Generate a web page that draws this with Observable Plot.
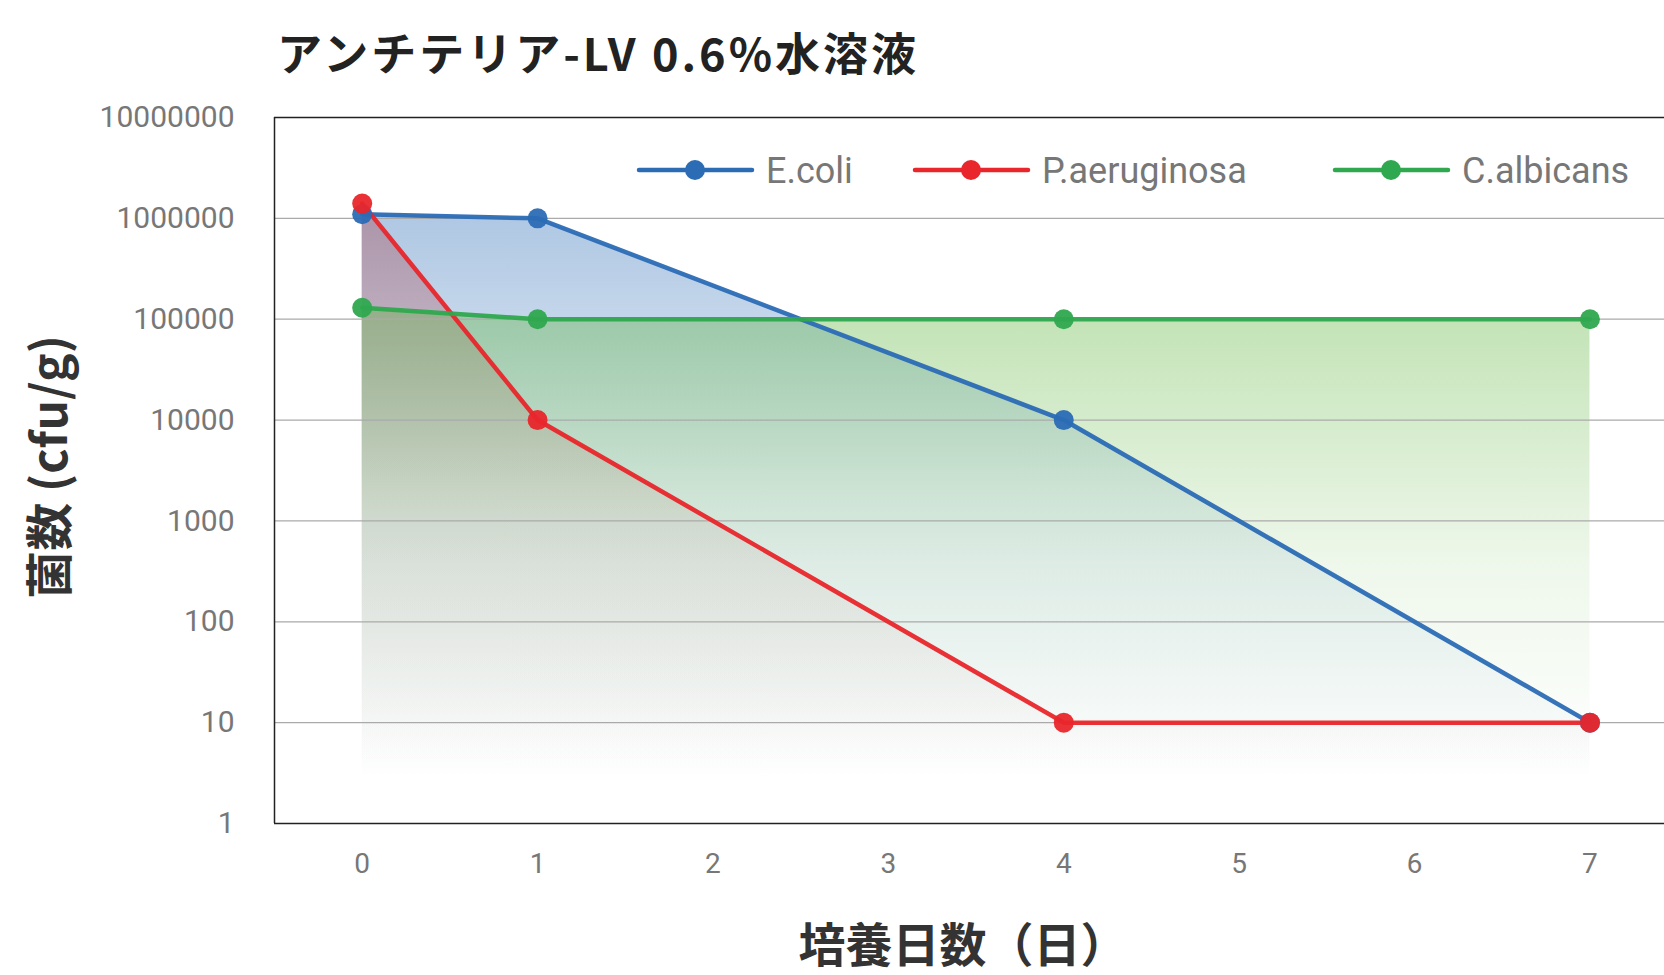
<!DOCTYPE html>
<html><head><meta charset="utf-8">
<script src="https://cdn.jsdelivr.net/npm/d3@7"></script>
<script src="https://cdn.jsdelivr.net/npm/@observablehq/plot@0.6"></script>
<style>
body{margin:0;background:#fff;width:1664px;height:975px;overflow:hidden;position:relative;font-family:Roboto,"Noto Sans CJK JP",sans-serif;}
#title{position:absolute;left:277px;top:22px;font-family:"Noto Sans CJK JP",sans-serif;font-weight:700;font-size:45px;letter-spacing:3px;line-height:60px;color:#222;white-space:nowrap;}
#chart{position:absolute;left:0;top:90px;}
</style></head>
<body>
<div id="title">アンチテリア-LV 0.6%水溶液</div>
<div id="chart"></div>
<script>
const days = [0, 1, 4, 7];
const ecoli = [1.1e6, 1e6, 1e4, 10];
const paeru = [1.4e6, 1e4, 10, 10];
const calb = [1.3e5, 1e5, 1e5, 1e5];
const seriesNames = ["E.coli", "P.aeruginosa", "C.albicans"];
const seriesColors = ["#2b6cb5", "#e8262b", "#2fa84f"];
const yTicks = [1, 10, 100, 1000, 10000, 100000, 1000000, 10000000];
const xTicks = [0, 1, 2, 3, 4, 5, 6, 7];
const xTitle = "培養日数（日）";
const yTitle = "菌数 (cfu/g)";

const allSeries = [ecoli, paeru, calb];
const rows = [];
allSeries.forEach((vals, si) => days.forEach((d, i) => rows.push({series: seriesNames[si], day: d, v: vals[i]})));
const bySeries = name => rows.filter(r => r.series === name);
const gradIds = ["gBlue", "gRed", "gGreen"];

const marks = [];
seriesNames.forEach((n, i) => marks.push(Plot.areaY(bySeries(n), {x: "day", y1: () => 1, y2: "v", fill: `url(#${gradIds[i]})`})));
marks.push(Plot.ruleY(yTicks.slice(1, -1), {stroke: "#aaa", strokeWidth: 1.2}));
marks.push(Plot.ruleY([1, 10000000], {stroke: "#222", strokeWidth: 1.5}));
marks.push(Plot.ruleX([-0.5], {stroke: "#222", strokeWidth: 1.5}));
seriesNames.forEach((n, i) => {
  marks.push(Plot.line(bySeries(n), {x: "day", y: "v", stroke: seriesColors[i], strokeWidth: 4.5, strokeOpacity: 0.95}));
});
seriesNames.forEach((n, i) => {
  marks.push(Plot.dot(bySeries(n), {x: "day", y: "v", r: 10, fill: seriesColors[i], fillOpacity: 0.95}));
});
marks.push(Plot.axisY({ticks: yTicks, tickFormat: d => String(d), tickSize: 0, tickPadding: 40, label: null, fontSize: 30, color: "#777"}));
marks.push(Plot.axisX({ticks: xTicks, tickFormat: d => String(d), tickSize: 0, tickPadding: 30, label: null, fontSize: 28, color: "#777"}));

const svg = Plot.plot({
  width: 1664, height: 885,
  marginLeft: 274, marginRight: 0, marginTop: 27, marginBottom: 152,
  x: {domain: [-0.5, 7.425]},
  y: {type: "log", domain: [1, 10000000]},
  style: {fontFamily: "Roboto, sans-serif", background: "#fff"},
  marks
});

const s = d3.select(svg);
const defs = s.insert("defs", ":first-child");
const gradDefs = [
  {id: "gBlue", color: "#2b6cb5", stops: [[0, 0.38], [0.45, 0.12], [0.93, 0.0]]},
  {id: "gRed", color: "#a82a30", stops: [[0, 0.33], [0.5, 0.08], [0.93, 0.0]]},
  {id: "gGreen", color: "#5cb43a", stops: [[0, 0.38], [0.5, 0.1], [0.9, 0.0]]}
];
gradDefs.forEach(g => {
  const lg = defs.append("linearGradient").attr("id", g.id).attr("x1", 0).attr("y1", 0).attr("x2", 0).attr("y2", 1);
  g.stops.forEach(([o, op]) => lg.append("stop").attr("offset", o).attr("stop-color", g.color).attr("stop-opacity", op));
});

// legend
const legend = s.append("g").attr("font-family", "Roboto, sans-serif").attr("font-size", 36).attr("fill", "#777").attr("text-anchor", "start");
const legendX = [639, 915, 1335];
seriesNames.forEach((n, i) => {
  const x0 = legendX[i], y = 80;
  legend.append("line").attr("x1", x0).attr("x2", x0 + 113).attr("y1", y).attr("y2", y).attr("stroke", seriesColors[i]).attr("stroke-width", 4.5).attr("stroke-linecap", "round");
  legend.append("circle").attr("cx", x0 + 56).attr("cy", y).attr("r", 10).attr("fill", seriesColors[i]);
  legend.append("text").attr("x", x0 + 127).attr("y", y).attr("dy", "0.36em").attr("text-anchor", "start").text(n);
});

// axis titles
s.append("text").attr("x", 963).attr("y", 855).attr("dy", "0.36em").attr("text-anchor", "middle")
  .attr("font-family", "'Noto Sans CJK JP', sans-serif").attr("font-weight", 700).attr("font-size", 47).attr("fill", "#333").text(xTitle);
s.append("text").attr("transform", "translate(50,377) rotate(-90)").attr("dy", "0.36em").attr("text-anchor", "middle")
  .attr("font-family", "'Noto Sans CJK JP', sans-serif").attr("font-weight", 700).attr("font-size", 48).attr("fill", "#333").text(yTitle);

document.getElementById("chart").appendChild(svg);
</script>
</body></html>
